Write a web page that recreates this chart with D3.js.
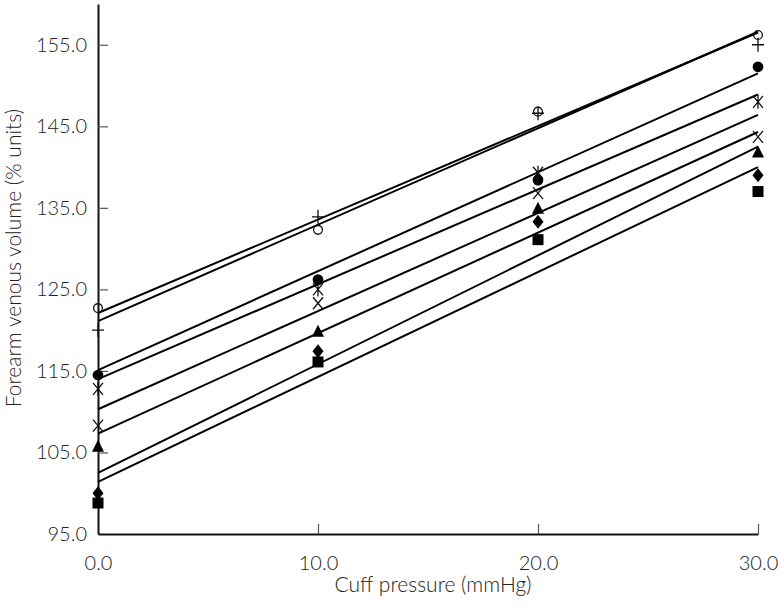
<!DOCTYPE html>
<html>
<head>
<meta charset="utf-8">
<script src="https://cdn.jsdelivr.net/npm/d3@7"></script>
<style>
  html, body { margin: 0; padding: 0; background: #fff; }
  svg text { font-family: Lato, "Open Sans", sans-serif; font-weight: 300; fill: #222; }
</style>
</head>
<body>
<svg id="chart" width="780" height="605"></svg>
<script>
// ---- data ----
const pressure = [0, 10, 20, 30];
const xTicks = [0, 10, 20, 30];
const yTicks = [95, 105, 115, 125, 135, 145, 155];

const seriesNames = ["openCircle", "plus", "filledCircle", "asterisk", "cross", "triangle", "diamond", "square"];
const openCircle   = [122.7, 132.3, 146.8, 156.2];
const plus         = [120.0, 133.9, 146.6, 155.0];
const filledCircle = [114.5, 126.2, 138.4, 152.3];
const asterisk     = [112.8, 125.0, 139.3, 148.0];
const cross        = [108.3, 123.3, 136.8, 143.7];
const triangle     = [105.7, 119.8, 134.9, 141.8];
const diamond      = [100.0, 117.4, 133.3, 139.0];
const square       = [98.8, 116.1, 131.1, 137.0];
const seriesValues = [openCircle, plus, filledCircle, asterisk, cross, triangle, diamond, square];

// fitted regression lines: value at 0 and at 30 mmHg
const fitStart = [122.1, 121.1, 115.1, 114.0, 110.3, 107.3, 102.5, 101.4];
const fitEnd   = [156.5, 156.6, 151.5, 148.9, 146.4, 144.3, 142.5, 140.0];

// ---- chart ----
const svg = d3.select("#chart");
const x = d3.scaleLinear().domain([0, 30]).range([98, 758]);
const y = d3.scaleLinear().domain([95, 160]).range([534, 4]);

const fsTick = 20;
const fsTitle = 21;

// axes
const xAxis = d3.axisBottom(x).tickValues(xTicks).tickFormat(d3.format(".1f")).tickSizeInner(-10).tickSizeOuter(0).tickPadding(22);
const gx = svg.append("g").attr("transform", `translate(0,${y(95)})`).call(xAxis);
gx.select(".domain").attr("stroke", "#111").attr("stroke-width", 2);
gx.selectAll(".tick line").attr("stroke", "#555").attr("stroke-width", 1.2);
gx.selectAll(".tick text").attr("font-size", fsTick).attr("font-family", "Lato, sans-serif").attr("font-weight", 300).attr("fill", "#222");
gx.selectAll(".tick").filter(d => d === 0).select("line").remove();

const yAxis = d3.axisLeft(y).tickValues(yTicks).tickFormat(d3.format(".1f")).tickSizeInner(-10).tickSizeOuter(0).tickPadding(11);
const gy = svg.append("g").attr("transform", `translate(${x(0)},0)`).call(yAxis);
gy.select(".domain").attr("stroke", "#111").attr("stroke-width", 2);
gy.selectAll(".tick line").attr("stroke", "#555").attr("stroke-width", 1.2);
gy.selectAll(".tick text").attr("font-size", fsTick).attr("font-family", "Lato, sans-serif").attr("font-weight", 300).attr("fill", "#222");
gy.selectAll(".tick").filter(d => d === 95).select("line").remove();

// axis titles
svg.append("text").attr("x", 433).attr("y", 592).attr("text-anchor", "middle").attr("font-size", fsTitle).text("Cuff pressure (mmHg)");
svg.append("text").attr("transform", `translate(21,258) rotate(-90)`).attr("text-anchor", "middle").attr("font-size", fsTitle).text("Forearm venous volume (% units)");

// fitted lines
svg.append("g").selectAll("line").data(fitStart).join("line")
  .attr("x1", x(0)).attr("x2", x(30))
  .attr("y1", d => y(d)).attr("y2", (d, i) => y(fitEnd[i]))
  .attr("stroke", "#000").attr("stroke-width", 2);

// markers
function markerPath(kind) {
  const p = d3.path();
  switch (kind) {
    case "plus": p.moveTo(-6, 0); p.lineTo(6, 0); p.moveTo(0, -7); p.lineTo(0, 7); break;
    case "cross": p.moveTo(-5, -6); p.lineTo(5, 6); p.moveTo(5, -6); p.lineTo(-5, 6); break;
    case "asterisk": p.moveTo(-5, -6); p.lineTo(5, 6); p.moveTo(5, -6); p.lineTo(-5, 6); p.moveTo(0, -7); p.lineTo(0, 7); break;
    case "diamond": p.moveTo(0, -7); p.lineTo(5.5, 0); p.lineTo(0, 7); p.lineTo(-5.5, 0); p.closePath(); break;
    case "triangle": p.moveTo(0, -7); p.lineTo(6, 5); p.lineTo(-6, 5); p.closePath(); break;
    case "square": p.rect(-5.5, -5.5, 11, 11); break;
    default: break;
  }
  return p.toString();
}
const circleOpen = d3.symbol().type(d3.symbolCircle).size(60)();
const circleFilled = d3.symbol().type(d3.symbolCircle).size(90)();

const gm = svg.append("g");
seriesNames.forEach((name, si) => {
  const pts = pressure.map((p, i) => ({ p, v: seriesValues[si][i] }));
  const sel = gm.append("g").selectAll("path").data(pts).join("path")
    .attr("transform", d => `translate(${x(d.p)},${y(d.v)})`);
  if (name === "plus" || name === "cross" || name === "asterisk") {
    sel.attr("d", markerPath(name)).attr("fill", "none").attr("stroke", "#111").attr("stroke-width", 1.3);
  } else if (name === "openCircle") {
    sel.attr("d", circleOpen).attr("fill", "none").attr("stroke", "#111").attr("stroke-width", 1.3);
  } else if (name === "filledCircle") {
    sel.attr("d", circleFilled).attr("fill", "#000");
  } else {
    sel.attr("d", markerPath(name)).attr("fill", "#000");
  }
});
</script>
</body>
</html>
